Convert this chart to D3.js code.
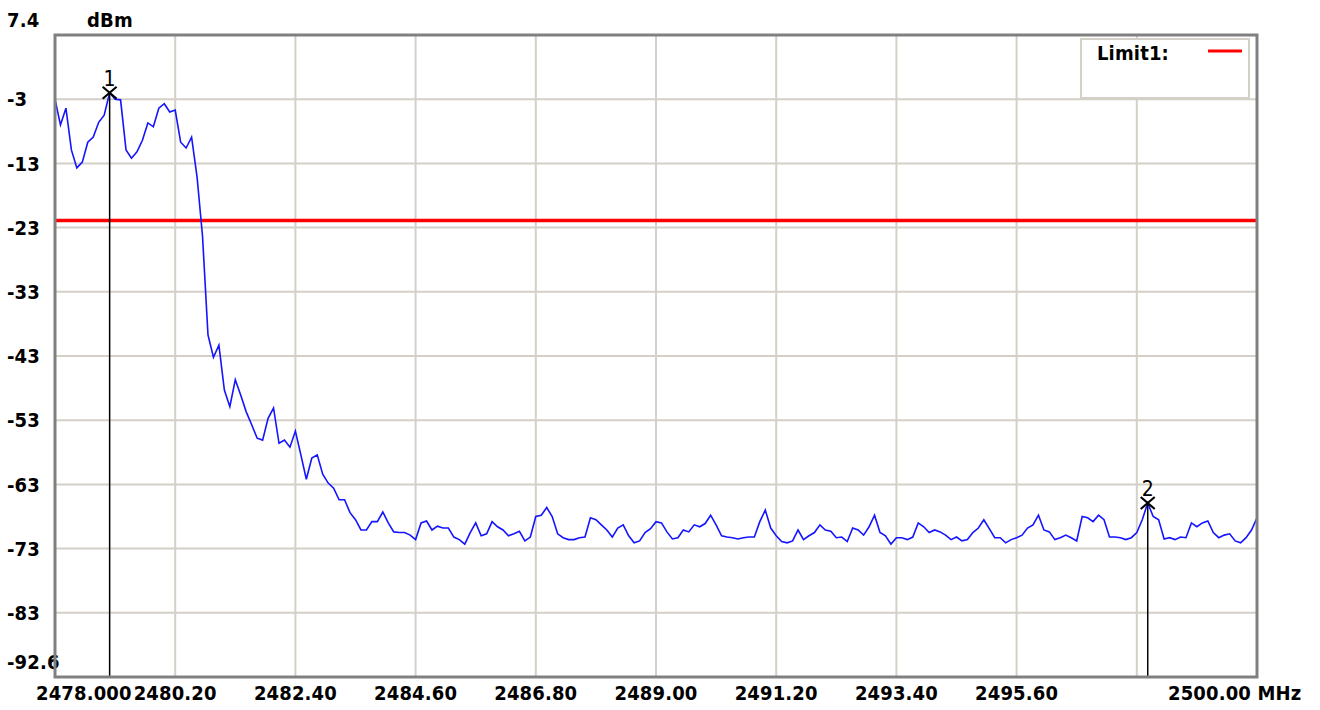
<!DOCTYPE html>
<html lang="en">
<head>
  <meta charset="UTF-8">
  <title>Spectrum trace</title>
  <style>
    body { margin: 0; background: #fff; }
    svg { display: block; }
    .lbl { font-family: "DejaVu Sans Condensed", "DejaVu Sans", sans-serif; font-weight: bold; font-size: 20px; letter-spacing: 0.15px; fill: #000; }
    .mk { font-family: "DejaVu Sans Condensed", "DejaVu Sans", sans-serif; font-size: 21px; fill: #000; }
  </style>
</head>
<body>
<div id="chart"></div>

<script src="https://cdn.jsdelivr.net/npm/d3@7"></script>
<script>
  // sweep: 2478 - 2500 MHz, one reading every 0.1 MHz
  const sweepStart = 2478;
  const sweepStep = 0.1;

  // trace level in dBm
  const levels = [
    -2.6, -6.6, -4.0, -10.5, -13.3, -12.4, -9.3, -8.5, -6.2, -5.1,
    -1.6, -2.6, -2.7, -10.5, -11.8, -10.8, -9.0, -6.3, -6.9, -4.0,
    -3.3, -4.6, -4.3, -9.3, -10.2, -8.5, -14.7, -23.9, -39.3, -42.8,
    -40.9, -47.9, -50.5, -46.3, -48.7, -51.3, -53.3, -55.4, -55.7, -52.3,
    -50.7, -56.2, -55.7, -56.8, -54.3, -58.0, -61.8, -58.5, -58.0, -61.0,
    -62.4, -63.2, -65.0, -65.0, -67.0, -68.1, -69.7, -69.7, -68.4, -68.4,
    -66.9, -68.6, -70.0, -70.1, -70.1, -70.5, -71.2, -68.6, -68.3, -69.7,
    -69.1, -69.4, -69.4, -70.8, -71.2, -71.9, -70.1, -68.6, -70.6, -70.3,
    -68.4, -69.2, -69.7, -70.6, -70.3, -69.9, -71.4, -70.8, -67.6, -67.4,
    -66.2, -67.6, -70.3, -70.9, -71.2, -71.2, -70.9, -70.8, -67.8, -68.1,
    -68.9, -69.7, -70.8, -69.4, -68.9, -70.6, -71.7, -71.4, -70.1, -69.5,
    -68.4, -68.6, -70.0, -71.1, -70.9, -69.7, -70.0, -68.9, -69.2, -68.7,
    -67.4, -68.9, -70.6, -70.8, -70.9, -71.1, -70.9, -70.8, -70.8, -68.4,
    -66.6, -69.4, -70.6, -71.5, -71.7, -71.4, -69.7, -71.2, -70.6, -70.1,
    -68.9, -69.7, -69.9, -70.9, -70.8, -71.5, -69.4, -69.7, -70.5, -69.2,
    -67.4, -70.1, -70.6, -71.9, -70.9, -70.9, -71.2, -70.8, -68.6, -69.2,
    -70.1, -69.7, -70.0, -70.5, -71.2, -70.8, -71.4, -71.2, -70.1, -69.4,
    -68.1, -69.5, -70.9, -70.9, -71.7, -71.2, -70.9, -70.5, -69.4, -68.9,
    -67.4, -69.7, -70.0, -71.2, -70.9, -70.5, -70.9, -71.4, -67.6, -67.8,
    -68.4, -67.4, -68.1, -70.8, -70.8, -70.9, -71.2, -70.9, -70.1, -68.1,
    -65.5, -67.6, -68.1, -71.1, -70.9, -71.2, -70.8, -70.9, -68.6, -69.2,
    -68.6, -68.3, -70.1, -70.9, -70.5, -70.3, -71.4, -71.7, -70.9, -69.7,
    -67.8
  ];

  const xTickValues = [2478, 2480.2, 2482.4, 2484.6, 2486.8, 2489, 2491.2, 2493.4, 2495.6, 2497.8, 2500];
  const xTickLabels = ["2478.000", "2480.20", "2482.40", "2484.60", "2486.80", "2489.00", "2491.20", "2493.40", "2495.60", "", "2500.00 MHz"];
  const yTickValues = [7.4, -2.6, -12.6, -22.6, -32.6, -42.6, -52.6, -62.6, -72.6, -82.6, -92.6];
  const yTickLabels = ["7.4", "-3", "-13", "-23", "-33", "-43", "-53", "-63", "-73", "-83", "-92.6"];

  const limitLevel = -21.5;
  const markerNames = ["1", "2"];
  const markerFreqs = [2479.0, 2498.0];
  const markerLevels = [-1.6, -65.5];

  const W = 1320, H = 710;
  const plot = { left: 55, right: 1257, top: 35, bottom: 677 };

  const x = d3.scaleLinear().domain([2478, 2500]).range([plot.left, plot.right]);
  const y = d3.scaleLinear().domain([7.4, -92.6]).range([plot.top, plot.bottom]);

  const svg = d3.select("#chart").append("svg")
    .attr("width", W)
    .attr("height", H);

  svg.append("rect").attr("width", W).attr("height", H).attr("fill", "#fff");

  // grid
  svg.append("g").selectAll("line")
    .data(xTickValues)
    .enter().append("line")
    .attr("x1", d => x(d)).attr("x2", d => x(d))
    .attr("y1", plot.top).attr("y2", plot.bottom)
    .attr("stroke", "#d4d0c8").attr("stroke-width", 2);

  svg.append("g").selectAll("line")
    .data(yTickValues)
    .enter().append("line")
    .attr("x1", plot.left).attr("x2", plot.right)
    .attr("y1", d => y(d)).attr("y2", d => y(d))
    .attr("stroke", "#d4d0c8").attr("stroke-width", 2);

  // y labels (end ones nudged so they fit)
  svg.append("g").selectAll("text")
    .data(yTickValues)
    .enter().append("text")
    .attr("class", "lbl")
    .attr("x", 7)
    .attr("y", (d, i) => i === 0 ? y(d) - 15 : (i === yTickValues.length - 1 ? y(d) - 15 : y(d)))
    .attr("dy", "0.36em")
    .text((d, i) => yTickLabels[i]);

  svg.append("text").attr("class", "lbl")
    .attr("x", 87).attr("y", y(7.4) - 15).attr("dy", "0.36em")
    .text("dBm");

  // x labels
  svg.append("g").selectAll("text")
    .data(xTickValues)
    .enter().append("text")
    .attr("class", "lbl")
    .attr("x", (d, i) => i === 0 ? x(d) - 19 : (i === xTickValues.length - 1 ? x(d) - 89 : x(d)))
    .attr("y", 700)
    .attr("text-anchor", (d, i) => (i === 0 || i === xTickValues.length - 1) ? "start" : "middle")
    .text((d, i) => xTickLabels[i]);

  // limit line
  svg.append("line")
    .attr("x1", plot.left).attr("x2", plot.right)
    .attr("y1", y(limitLevel)).attr("y2", y(limitLevel))
    .attr("stroke", "#ff0000").attr("stroke-width", 3.5);

  // trace
  const line = d3.line()
    .x((d, i) => x(sweepStart + i * sweepStep))
    .y(d => y(d));

  svg.append("path")
    .datum(levels)
    .attr("fill", "none")
    .attr("stroke", "#1414ff")
    .attr("stroke-width", 1.6)
    .attr("stroke-linejoin", "miter")
    .attr("d", line);

  // markers
  const mk = svg.append("g").selectAll("g")
    .data(markerNames)
    .enter().append("g")
    .attr("transform", (d, i) => "translate(" + x(markerFreqs[i]) + "," + y(markerLevels[i]) + ")");

  mk.append("line")
    .attr("x1", 0).attr("x2", 0)
    .attr("y1", 0).attr("y2", (d, i) => plot.bottom - y(markerLevels[i]))
    .attr("stroke", "#000").attr("stroke-width", 1.5);

  mk.append("path")
    .attr("d", "M-7,-6L7,6M-7,6L7,-6")
    .attr("stroke", "#000").attr("stroke-width", 2.2);

  mk.append("text")
    .attr("class", "mk")
    .attr("text-anchor", "middle")
    .attr("y", -7)
    .text(d => d);

  // plot frame
  svg.append("rect")
    .attr("x", plot.left).attr("y", plot.top)
    .attr("width", plot.right - plot.left).attr("height", plot.bottom - plot.top)
    .attr("fill", "none").attr("stroke", "#808080").attr("stroke-width", 3);

  // legend box
  const lg = svg.append("g");
  lg.append("rect")
    .attr("x", 1081).attr("y", 39).attr("width", 168).attr("height", 59)
    .attr("fill", "#fff").attr("stroke", "#d4d0c8").attr("stroke-width", 2);
  lg.append("text").attr("class", "lbl")
    .attr("x", 1097).attr("y", 53).attr("dy", "0.36em")
    .text("Limit1:");
  lg.append("line")
    .attr("x1", 1208).attr("x2", 1242).attr("y1", 51).attr("y2", 51)
    .attr("stroke", "#ff0000").attr("stroke-width", 3);
</script>
</body>
</html>
